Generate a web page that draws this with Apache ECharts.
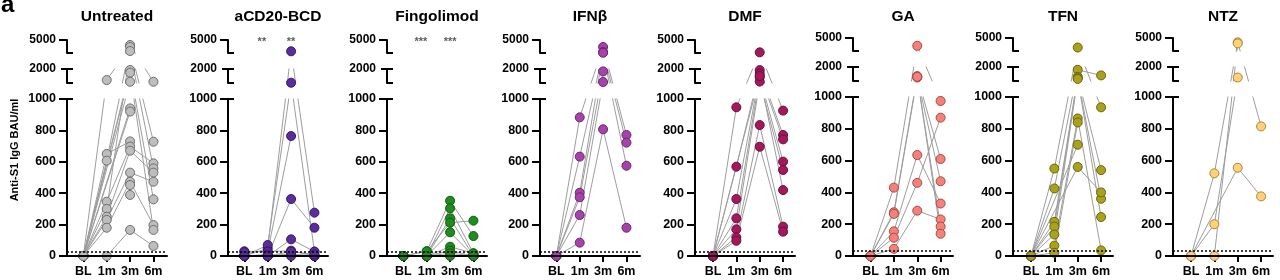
<!DOCTYPE html>
<html>
<head>
<meta charset="utf-8">
<script src="https://cdn.jsdelivr.net/npm/echarts@6/dist/echarts.min.js"></script>
<style>
  html, body { margin: 0; padding: 0; background: #fff; }
  #chart { width: 1280px; height: 280px; }
</style>
</head>
<body>
<div id="chart"></div>
<script>
const timepoints = ['BL', '1m', '3m', '6m']
const groups = ['Untreated', 'aCD20-BCD', 'Fingolimod', 'IFNβ', 'DMF', 'GA', 'TFN', 'NTZ']
const mainTicks = [0, 200, 400, 600, 800, 1000]
const midTicks = [1000, 2000]
const topTicks = [2000, 5000]
const threshold = 30

// one row per subject: BL, 1m, 3m, 6m (null = no sample)
const untreated = [
  [0, 650, 730, null],
  [0, 607, 3850, 1090],
  [0, 1210, 3380, 728],
  [0, 346, 697, 590],
  [0, 300, 2460, 558],
  [0, 250, 671, 531],
  [0, 230, 531, 473],
  [0, 180, 473, 197],
  [0, 0, 166, 64],
  [0, null, 1930, 361],
  [0, null, 1740, 166],
  [0, null, 1090, null],
  [0, null, 940, null],
  [0, null, 920, null],
  [null, null, 452, null],
  [null, null, 389, null],
]
const acd20 = [
  [0, 49, 2390, 276],
  [0, 70, 1020, 28],
  [30, 28, 764, null],
  [0, 0, 363, 180],
  [0, 0, 106, 28],
  [25, 28, 34, 0],
  [0, 0, 13, 0],
  [0, 10, 0, 0],
  [0, 0, 28, 10],
]
const fingolimod = [
  [0, 30, 352, 127],
  [0, 0, 304, 17],
  [0, 0, 240, 0],
  [0, 30, 212, 225],
  [0, 0, 151, 0],
  [0, 0, 59, 17],
  [0, 0, 34, 0],
  [0, 0, 17, 0],
  [0, 0, 0, 0],
]
const ifnb = [
  [0, 883, 3390, 771],
  [0, 633, 2240, 722],
  [0, 403, 2050, 575],
  [0, 374, 1830, null],
  [0, 261, 1070, null],
  [0, 85, 807, 180],
]
const dmf = [
  [0, 947, 2150, 926],
  [0, 569, 1920, 771],
  [0, 363, 1670, 743],
  [0, 240, 1420, 601],
  [0, 170, 1100, 548],
  [0, 119, 834, 187],
  [0, 97, 696, 155],
  [0, null, 1500, 420],
]
const ga = [
  [0, 430, 3200, 975],
  [0, 275, 1350, 610],
  [0, 265, 1250, 470],
  [0, 155, 635, 330],
  [0, 115, 460, 870],
  [0, 45, 285, 230],
  [null, null, 1300, 185],
  [null, null, 1300, 140],
]
const tfn = [
  [0, 550, 2800, 935],
  [0, 425, 1800, 1400],
  [0, 215, 1300, 540],
  [0, 185, 1200, 360],
  [0, 135, 1150, 245],
  [0, 65, 865, 35],
  [0, 20, 840, null],
  [0, null, 700, null],
  [0, null, 560, 400],
]
const ntz = [
  [0, 520, 4000, 815],
  [0, 200, 1250, null],
  [0, 0, 3750, null],
  [0, null, 555, 375],
]
const groupRows = [untreated, acd20, fingolimod, ifnb, dmf, ga, tfn, ntz]

const fills = ['#bdbdbd', '#5b2d9a', '#1f8c1f', '#a444a8', '#a3195b', '#f4827a', '#aaa21c', '#ffd27a']
const borders = ['#6e6e6e', '#36186a', '#0f5a0f', '#6e2470', '#680f3a', '#a84a44', '#6a650c', '#a8853a']
// significance marks over 1m and 3m
const stars = [null, ['**', '**'], ['***', '***'], null, null, null, null, null]
const starX = [0.75, 2]
const starLevel = 4500

// layout
const FONT = 'Arial, "Liberation Sans", Helvetica, sans-serif'
const AXIS_LEFT = [67, 228, 387, 540, 695, 853, 1013, 1173]
const MAIN_TOP = [99, 99, 99, 99, 99, 97, 97, 97]
const X_MIN = [-0.7, -0.7, -0.7, -0.7, -0.77, -0.75, -0.77, -0.77]
const X_RANGE = 4.28
const BASE = 256
const GRID_W = 100
const GAP = 16
const MID_H = 14
const TOP_H = 13

// broken y axis: value range and pixel span of each piece
function segments(p) {
  const h = BASE - MAIN_TOP[p]
  const midLo = h + GAP
  const topLo = midLo + MID_H + GAP
  return [
    { from: 0, to: 1000, lo: 0, hi: h, ticks: mainTicks },
    { from: 1000, to: 2000, lo: midLo, hi: midLo + MID_H, ticks: midTicks },
    { from: 2000, to: 5000, lo: topLo, hi: topLo + TOP_H, ticks: topTicks },
  ]
}

function toAxis(v, segs) {
  const s = segs.find(s => v <= s.to) || segs[segs.length - 1]
  return s.lo + (v - s.from) / (s.to - s.from) * (s.hi - s.lo)
}

function points(row, segs) {
  return row.map((v, i) => (v == null ? null : [i, toAxis(v, segs)])).filter(Boolean)
}

const black = () => ({ color: '#000', width: 2 })
const grid = []
const xAxis = []
const yAxis = []
const series = []
const graphic = []

// a grid whose x and y axes are both hidden, returns axis indexes
function hiddenGrid(box, xMin, xMax, yMin, yMax) {
  const gi = grid.length
  grid.push(box)
  xAxis.push({ gridIndex: gi, type: 'value', min: xMin, max: xMax, show: false })
  yAxis.push({ gridIndex: gi, type: 'value', min: yMin, max: yMax, show: false })
  return { xi: xAxis.length - 1, yi: yAxis.length - 1 }
}

groupRows.forEach((rows, p) => {
  const segs = segments(p)
  const left = AXIS_LEFT[p]
  const xMin = X_MIN[p]
  const xMax = X_MIN[p] + X_RANGE

  segs.forEach((s, k) => {
    const box = { left, width: GRID_W, top: BASE - s.hi, height: s.hi - s.lo }

    // frame: ticks and labels
    const gi = grid.length
    grid.push({ ...box })
    if (k === 0) {
      xAxis.push({
        gridIndex: gi, type: 'value', min: xMin, max: xMax, position: 'bottom',
        splitLine: { show: false },
        axisLine: { show: true, onZero: false, lineStyle: black() },
        axisTick: { show: true, customValues: [0, 1, 2, 3], length: 6, lineStyle: black() },
        axisLabel: {
          customValues: [0, 1, 2, 3],
          formatter: v => timepoints[Math.round(v)],
          color: '#000', fontSize: 12.5, fontWeight: 'bold', fontFamily: FONT, margin: 9,
        },
      })
    } else {
      xAxis.push({ gridIndex: gi, type: 'value', min: xMin, max: xMax, show: false })
    }

    const tickPos = s.ticks.map(t => toAxis(t, segs))
    yAxis.push({
      gridIndex: gi, type: 'value', min: s.lo, max: s.hi, position: 'left',
      splitLine: { show: false },
      axisLine: { show: true, onZero: false, lineStyle: black() },
      axisTick: { show: true, customValues: tickPos, length: k === 1 ? 6 : 8, lineStyle: black() },
      axisLabel: {
        customValues: tickPos,
        formatter: v => {
          let best = 0
          tickPos.forEach((t, i) => { if (Math.abs(t - v) < Math.abs(tickPos[best] - v)) best = i })
          return String(s.ticks[best])
        },
        color: '#000', fontSize: k === 0 ? 12.5 : 12, fontWeight: 'bold', fontFamily: FONT, margin: 11,
      },
    })
    // right half of the bracket ticks at the breaks
    const inner = k === 0 ? [s.hi] : k === 1 ? [s.lo, s.hi] : [s.lo]
    yAxis.push({
      gridIndex: gi, type: 'value', min: s.lo, max: s.hi, position: 'left',
      splitLine: { show: false },
      axisLine: { show: false, onZero: false },
      axisLabel: { show: false },
      axisTick: { show: true, customValues: inner, inside: true, length: 6, lineStyle: black() },
    })

    // lines clipped to this piece
    const ax = hiddenGrid({ ...box }, xMin, xMax, s.lo, s.hi)
    rows.forEach((row, r) => {
      const line = {
        type: 'line', xAxisIndex: ax.xi, yAxisIndex: ax.yi,
        data: points(row, segs),
        symbol: 'none', showSymbol: false, clip: true, silent: true, animation: false, z: 2,
        lineStyle: { color: '#9d9d9d', width: 1 },
      }
      if (k === 0 && r === 0) {
        line.markLine = {
          silent: true, symbol: ['none', 'none'], animation: false,
          label: { show: false },
          lineStyle: { type: [2, 2], color: '#000', width: 1.5 },
          data: [{ yAxis: toAxis(threshold, segs) }],
        }
      }
      series.push(line)
    })
  })

  // overlay spanning all pieces: dots, stars and the spines of every piece
  const full = segs[2].hi
  const ov = hiddenGrid({ left, width: GRID_W, top: BASE - full, height: full }, xMin, xMax, 0, full)
  const spines = segs.map(s => [{ coord: [xMin, s.lo] }, { coord: [xMin, s.hi] }])
  spines.push([{ coord: [xMin, 0] }, { coord: [xMax, 0] }])

  series.push({
    type: 'scatter', xAxisIndex: ov.xi, yAxisIndex: ov.yi,
    data: rows.flatMap(row => points(row, segs)),
    symbolSize: 9, clip: false, silent: true, animation: false, z: 3,
    itemStyle: { color: fills[p], borderColor: borders[p], borderWidth: 1, opacity: 1 },
    markLine: {
      silent: true, symbol: ['none', 'none'], animation: false,
      label: { show: false },
      lineStyle: { type: 'solid', color: '#000', width: 2 },
      data: spines,
    },
  })

  if (stars[p]) {
    series.push({
      type: 'scatter', xAxisIndex: ov.xi, yAxisIndex: ov.yi,
      data: stars[p].map((t, i) => ({ name: t, value: [starX[i], toAxis(starLevel, segs)] })),
      symbolSize: 0, clip: false, silent: true, animation: false, z: 4,
      label: {
        show: true, position: 'inside', formatter: d => d.name,
        color: '#333', fontSize: 11, fontWeight: 'bold', fontFamily: FONT,
      },
    })
  }

  graphic.push({
    type: 'text', x: left + GRID_W / 2, y: 17,
    style: {
      text: groups[p], align: 'center', verticalAlign: 'middle',
      fill: '#000', fontSize: 15.5, fontWeight: 'bold', fontFamily: FONT,
    },
  })
})

graphic.push({
  type: 'text', x: 15, y: 150, rotation: Math.PI / 2,
  style: {
    text: 'Anti-S1 IgG BAU/ml', align: 'center', verticalAlign: 'middle',
    fill: '#000', fontSize: 11, fontWeight: 'bold', fontFamily: FONT,
  },
})
graphic.push({
  type: 'text', x: 1, y: -7,
  style: { text: 'a', align: 'left', verticalAlign: 'top', fill: '#000', fontSize: 24, fontWeight: 'bold', fontFamily: FONT },
})

const chart = echarts.init(document.getElementById('chart'), null, { renderer: 'canvas' })
chart.setOption({
  animation: false,
  backgroundColor: '#fff',
  grid,
  xAxis,
  yAxis,
  series,
  graphic,
})
window.addEventListener('resize', () => chart.resize())
</script>
</body>
</html>
